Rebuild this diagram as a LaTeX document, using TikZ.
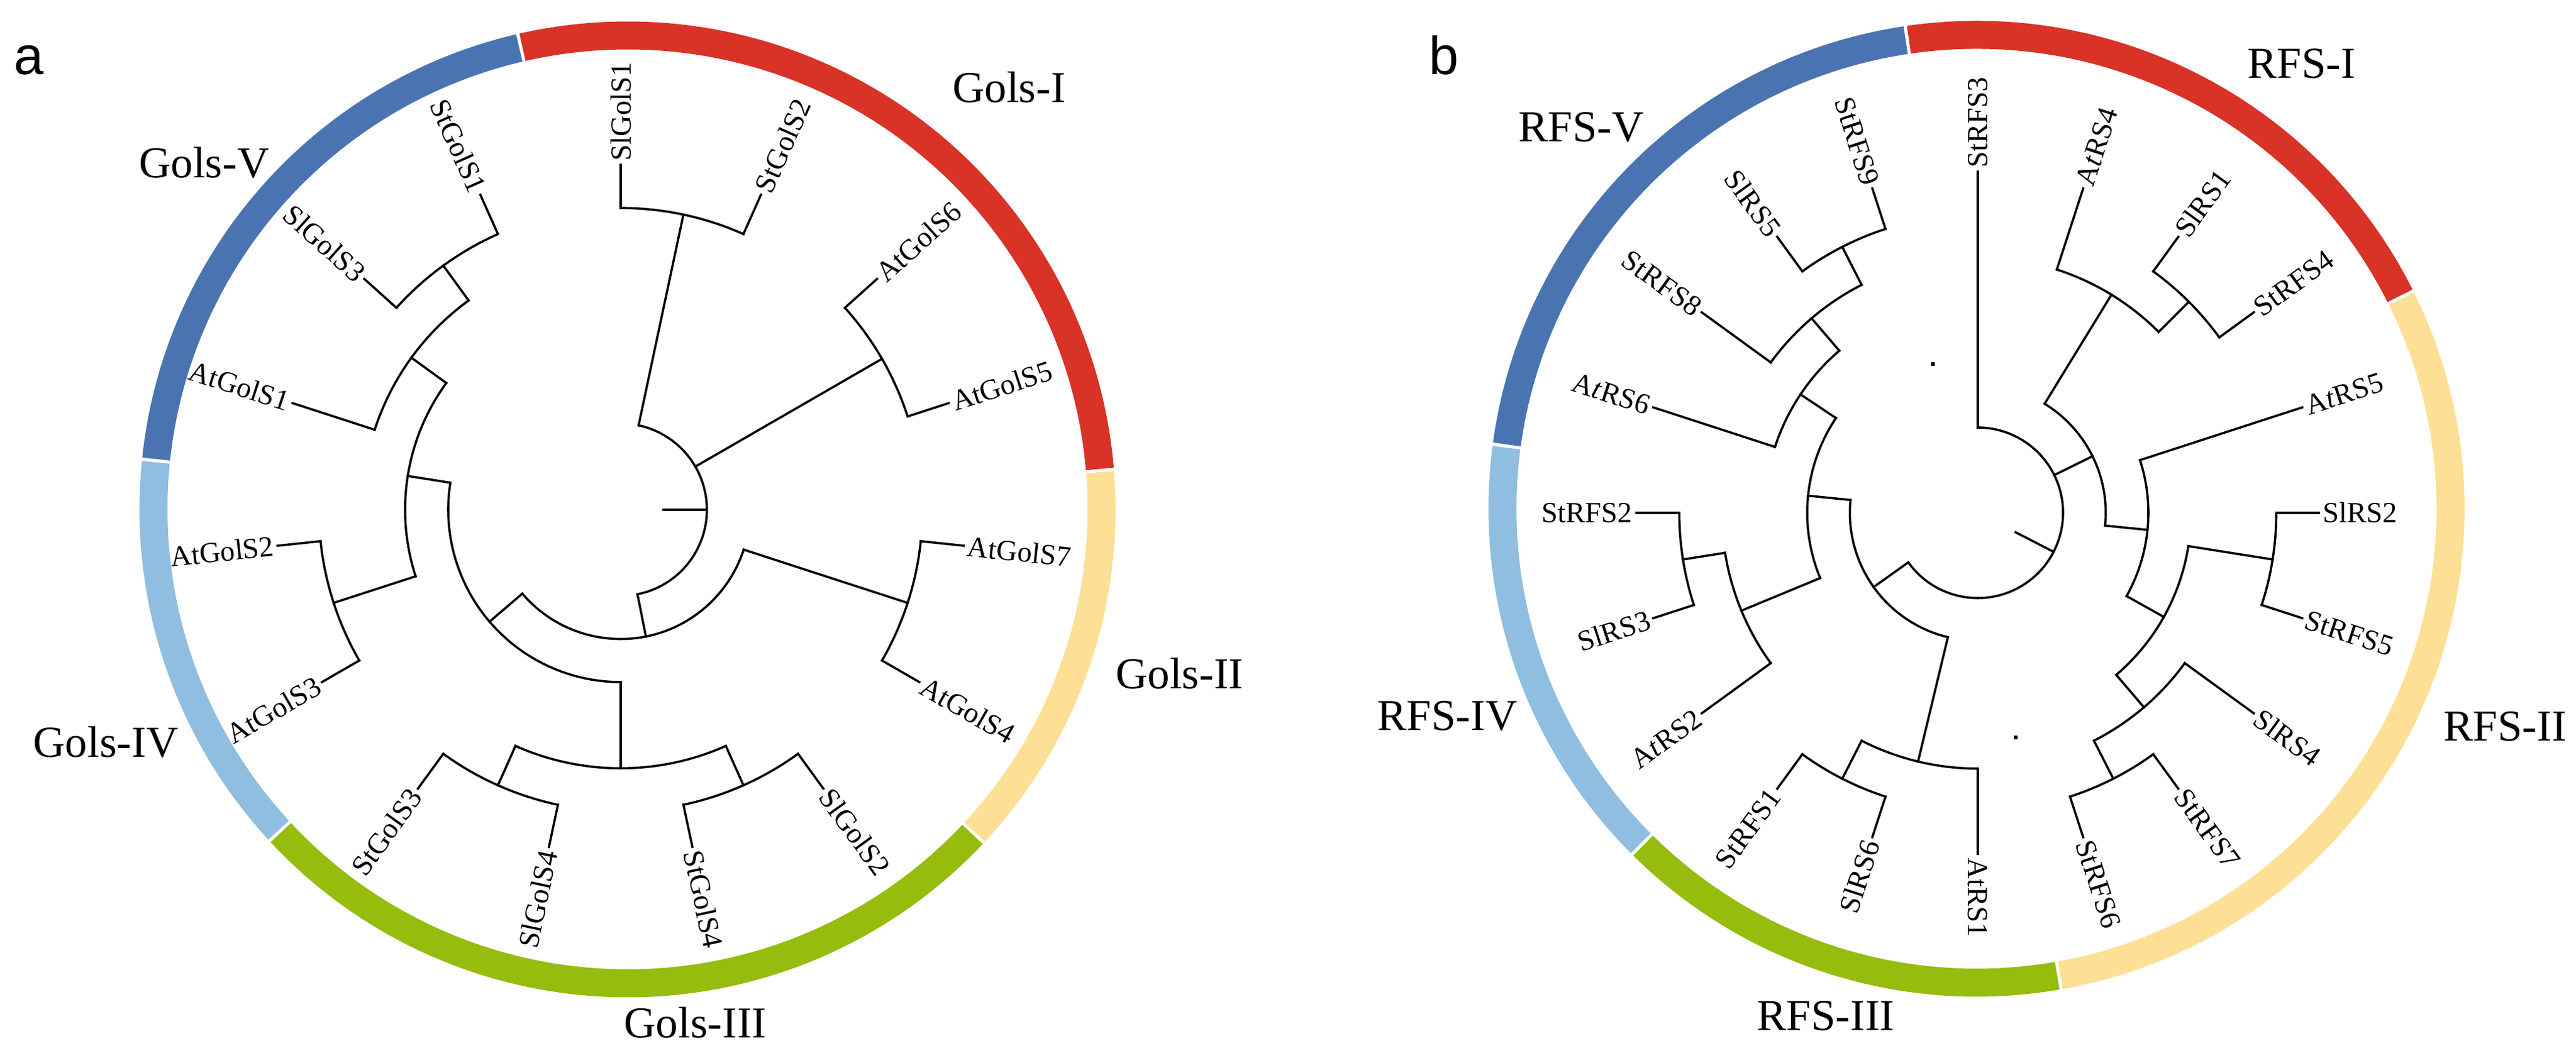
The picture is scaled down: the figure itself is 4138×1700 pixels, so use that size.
\documentclass[tikz,border=0pt]{standalone}
\usepackage{fontspec}
\setmainfont{Liberation Serif}
\newfontfamily\sansf{Liberation Sans}
\usetikzlibrary{calc}
\definecolor{cI}{HTML}{D93226}
\definecolor{cII}{HTML}{FDDF95}
\definecolor{cIII}{HTML}{96BC0E}
\definecolor{cIV}{HTML}{90BEE0}
\definecolor{cV}{HTML}{4A74B1}
\tikzset{
  br/.style={line width=1.02pt, line cap=rect, black},
  ringseg/.style={line width=12.8pt, line cap=butt},
  lab/.style={inner sep=0pt, font=\fontsize{13.3}{16}\selectfont},
  grp/.style={inner sep=0pt, font=\fontsize{20.2}{24}\selectfont},
  pan/.style={inner sep=0pt, anchor=base west, font=\sansf\fontsize{24.5}{29}\selectfont},
}
\newcommand\unitr{69.25}
\newcommand\rad[3]{\draw[br] (#1:{#2*\unitr}) -- (#1:{#3*\unitr});}
\newcommand\arcc[3]{\draw[br] (#2:{#1*\unitr}) arc[start angle=#2, end angle=#3, radius={#1*\unitr}];}
\newcommand\seg[3]{\draw[ringseg,#1] ({#2+0.2}:761.5) arc[start angle={#2+0.2}, end angle={#3-0.2}, radius=761.5];}
\newcommand\leafR[3]{\node[lab,anchor=west,rotate=#2] (#1) at (#2:{8*\unitr+6}) {#3};}
\newcommand\leafL[3]{\node[lab,anchor=east,rotate={#2-180}] (#1) at (#2:{8*\unitr+6}) {#3};}
\begin{document}
\begin{tikzpicture}[x=0.1mm,y=0.1mm]
\useasboundingbox (0,0) rectangle (4138,1700);
% ---------------- panel a ----------------
\node[pan] (pa) at (22,1580) {a};
\begin{scope}[shift={(1008,881.5)}]
\seg{cI}{4.7}{103}
\seg{cV}{103}{174.1}
\seg{cIV}{174.1}{222.8}
\seg{cIII}{222.8}{316.9}
\seg{cII}{316.9}{364.7}
\end{scope}
\begin{scope}[shift={(997,881)}]
\renewcommand\unitr{69.25}
\rad{0}{1}{2}
\arcc{2}{-78.75}{78}
\rad{78}{2}{7} \arcc{7}{66}{90} \rad{90}{7}{8} \rad{66}{7}{8}
\rad{30}{2}{7} \arcc{7}{18}{42} \rad{42}{7}{8} \rad{18}{7}{8}
\rad{-78.75}{2}{3} \arcc{3}{220.5}{342}
\rad{342}{3}{7} \arcc{7}{330}{354} \rad{330}{7}{8} \rad{354}{7}{8}
\rad{220.5}{3}{4} \arcc{4}{171}{270}
\rad{270}{4}{6} \arcc{6}{246}{294}
\rad{294}{6}{7} \arcc{7}{282}{306} \rad{282}{7}{8} \rad{306}{7}{8}
\rad{246}{6}{7} \arcc{7}{234}{258} \rad{234}{7}{8} \rad{258}{7}{8}
\rad{171}{4}{5} \arcc{5}{144}{198}
\rad{198}{5}{7} \arcc{7}{186}{210} \rad{186}{7}{8} \rad{210}{7}{8}
\rad{144}{5}{6} \arcc{6}{126}{162} \rad{162}{6}{8}
\rad{126}{6}{7} \arcc{7}{114}{138} \rad{114}{7}{8} \rad{138}{7}{8}
\leafR{aSlGolS1}{90}{SlGolS1}
\leafR{aStGolS2}{66}{StGolS2}
\leafR{aAtGolS6}{42}{AtGolS6}
\leafR{aAtGolS5}{18}{AtGolS5}
\leafR{aAtGolS7}{-6}{AtGolS7}
\leafR{aAtGolS4}{-30}{AtGolS4}
\leafR{aSlGolS2}{-54}{SlGolS2}
\leafR{aStGolS4}{-78}{StGolS4}
\leafL{aSlGolS4}{258}{SlGolS4}
\leafL{aStGolS3}{234}{StGolS3}
\leafL{aAtGolS3}{210}{AtGolS3}
\leafL{aAtGolS2}{186}{AtGolS2}
\leafL{aAtGolS1}{162}{AtGolS1}
\leafL{aSlGolS3}{138}{SlGolS3}
\leafL{aStGolS1}{114}{StGolS1}
\end{scope}
\node[grp] (gI) at (1621,1560) {Gols-I};
\node[grp] (gV) at (328,1439) {Gols-V};
\node[grp] (gIV) at (170,508) {Gols-IV};
\node[grp] (gII) at (1895,618) {Gols-II};
\node[grp] (gIII) at (1117,57) {Gols-III};
% ---------------- panel b ----------------
\node[pan] (pb) at (2295,1580) {b};
\begin{scope}[shift={(3175,882.5)}]
\seg{cI}{26.5}{98.4}
\seg{cV}{98.4}{172.4}
\seg{cIV}{172.4}{225.1}
\seg{cIII}{225.1}{280}
\seg{cII}{280}{386.5}
\end{scope}
\begin{scope}[shift={(3177,876)}]
\renewcommand\unitr{68.5}
\rad{-27.25}{1}{2}
\arcc{2}{-144.5}{90}
\rad{90}{2}{8}
\rad{26.25}{2}{3} \arcc{3}{-5.75}{58.5}
\rad{58.5}{3}{6} \arcc{6}{45}{72} \rad{72}{6}{8}
\rad{45}{6}{7} \arcc{7}{36}{54} \rad{36}{7}{8} \rad{54}{7}{8}
\rad{-5.75}{3}{4} \arcc{4}{-29.25}{18} \rad{18}{4}{8}
\rad{-29.25}{4}{5} \arcc{5}{-49.5}{-9}
\rad{-9}{5}{7} \arcc{7}{-18}{0} \rad{0}{7}{8} \rad{-18}{7}{8}
\rad{-49.5}{5}{6} \arcc{6}{-63}{-36} \rad{-36}{6}{8}
\rad{-63}{6}{7} \arcc{7}{-72}{-54} \rad{-54}{7}{8} \rad{-72}{7}{8}
\rad{215.5}{2}{3} \arcc{3}{174.25}{256.5}
\rad{174.25}{3}{4} \arcc{4}{146.25}{202.5}
\rad{146.25}{4}{5} \arcc{5}{130.5}{162} \rad{162}{5}{8}
\rad{130.5}{5}{6} \arcc{6}{117}{144} \rad{144}{6}{8}
\rad{117}{6}{7} \arcc{7}{108}{126} \rad{108}{7}{8} \rad{126}{7}{8}
\rad{202.5}{4}{6} \arcc{6}{189}{216} \rad{216}{6}{8}
\rad{189}{6}{7} \arcc{7}{180}{198} \rad{180}{7}{8} \rad{198}{7}{8}
\rad{256.5}{3}{6} \arcc{6}{243}{270} \rad{270}{6}{8}
\rad{243}{6}{7} \arcc{7}{234}{252} \rad{234}{7}{8} \rad{252}{7}{8}
\leafR{bStRFS3}{90}{StRFS3}
\leafR{bAtRS4}{72}{A\textit{t}RS4}
\leafR{bSlRS1}{54}{SlRS1}
\leafR{bStRFS4}{36}{StRFS4}
\leafR{bAtRS5}{18}{A\textit{t}RS5}
\leafR{bSlRS2}{0}{SlRS2}
\leafR{bStRFS5}{-18}{StRFS5}
\leafR{bSlRS4}{-36}{SlRS4}
\leafR{bStRFS7}{-54}{StRFS7}
\leafR{bStRFS6}{-72}{StRFS6}
\leafR{bAtRS1}{-90}{AtRS1}
\leafL{bSlRS6}{252}{SlRS6}
\leafL{bStRFS1}{234}{StRFS1}
\leafL{bAtRS2}{216}{A\textit{t}RS2}
\leafL{bSlRS3}{198}{SlRS3}
\leafL{bStRFS2}{180}{StRFS2}
\leafL{bAtRS6}{162}{A\textit{t}RS6}
\leafL{bStRFS8}{144}{StRFS8}
\leafL{bSlRS5}{126}{SlRS5}
\leafL{bStRFS9}{108}{StRFS9}
\end{scope}
\fill (3102.3,1111.6) rectangle +(6,6);
\fill (3235.2,511.7) rectangle +(6,6);
\node[grp] (rI) at (3697,1598) {RFS-I};
\node[grp] (rV) at (2540,1495) {RFS-V};
\node[grp] (rIV) at (2325,549) {RFS-IV};
\node[grp] (rII) at (4024,533) {RFS-II};
\node[grp] (rIII) at (2933,68) {RFS-III};
\end{tikzpicture}
\end{document}
